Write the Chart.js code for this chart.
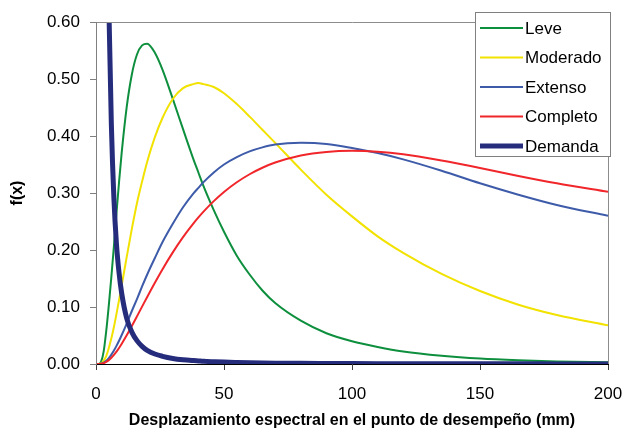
<!DOCTYPE html>
<html><head><meta charset="utf-8">
<script src="https://cdn.jsdelivr.net/npm/chart.js@4/dist/chart.umd.min.js"></script>
<style>html,body{margin:0;padding:0;background:#fff;}canvas{display:block;}</style>
</head><body>
<canvas id="c" width="624" height="430"></canvas>
<script>
const xValues  = [0, 1, 2, 3, 4, 5, 6, 7, 8, 9, 10, 12, 14, 16, 18, 20, 23, 26, 30, 34, 38, 40, 42, 46, 50, 55, 60, 65, 70, 80, 90, 100, 110, 120, 135, 150, 165, 180, 200];
const leve     = [0, 0, 0.004, 0.022, 0.058, 0.103, 0.153, 0.207, 0.265, 0.319, 0.369, 0.451, 0.508, 0.543, 0.559, 0.562, 0.546, 0.516, 0.465, 0.412, 0.360, 0.336, 0.312, 0.270, 0.232, 0.190, 0.157, 0.129, 0.107, 0.076, 0.054, 0.040, 0.030, 0.022, 0.0145, 0.0095, 0.0065, 0.0045, 0.003];
const moderado = [0, 0, 0.001, 0.006, 0.014, 0.028, 0.045, 0.065, 0.088, 0.112, 0.137, 0.188, 0.237, 0.282, 0.320, 0.355, 0.398, 0.432, 0.465, 0.484, 0.491, 0.493, 0.491, 0.486, 0.475, 0.456, 0.434, 0.411, 0.388, 0.341, 0.297, 0.259, 0.224, 0.195, 0.158, 0.128, 0.104, 0.086, 0.068];
const extenso  = [0, 0, 0.0006, 0.0024, 0.0056, 0.0103, 0.0164, 0.0236, 0.0318, 0.0408, 0.0505, 0.071, 0.093, 0.114, 0.136, 0.157, 0.186, 0.214, 0.246, 0.275, 0.299, 0.309, 0.319, 0.336, 0.350, 0.363, 0.373, 0.380, 0.385, 0.388, 0.386, 0.379, 0.370, 0.359, 0.339, 0.317, 0.297, 0.279, 0.260];
const completo = [0, 0, 0.0004, 0.0015, 0.0037, 0.0068, 0.0109, 0.0159, 0.0217, 0.0281, 0.0351, 0.0503, 0.0666, 0.0835, 0.1006, 0.1177, 0.1426, 0.1664, 0.1958, 0.2225, 0.2462, 0.2571, 0.2673, 0.2857, 0.3018, 0.3188, 0.3329, 0.3443, 0.3534, 0.3658, 0.3721, 0.374, 0.3725, 0.368, 0.357, 0.344, 0.330, 0.317, 0.302];
const demanda  = [null, null, null, null, 1.0, 0.63, 0.42, 0.29, 0.21, 0.16, 0.125, 0.08, 0.056, 0.041, 0.031, 0.024, 0.0175, 0.0135, 0.0098, 0.0075, 0.006, 0.0054, 0.0048, 0.004, 0.0033, 0.0027, 0.0022, 0.0018, 0.0015, 0.0011, 0.0009, 0.0007, 0.0006, 0.0005, 0.0004, 0.0003, 0.0003, 0.0002, 0.0002];

const seriesNames = ['Leve', 'Moderado', 'Extenso', 'Completo', 'Demanda'];
const xTickStep = 50;
const yTickStep = 0.1;
const xTitle = 'Desplazamiento espectral en el punto de desempeño (mm)';
const yTitle = 'f(x)';

const FONT = '"Liberation Sans", Arial, Helvetica, sans-serif';
const colors = ['#0E8F3E', '#F2E200', '#3D5BA9', '#F0262B', '#262C7C'];
const widths = [2, 2, 2, 2, 5];
const allSeries = [leve, moderado, extenso, completo, demanda];

function toPoints(vals) {
  const out = [];
  xValues.forEach((x, i) => { if (vals[i] !== null) out.push({x: x, y: vals[i]}); });
  return out;
}

const frame = {
  id: 'frame',
  afterDatasetsDraw(chart) {
    const {ctx, chartArea: a} = chart;
    ctx.save();
    ctx.strokeStyle = '#8c8c8c';
    ctx.lineWidth = 1;
    ctx.beginPath();
    ctx.moveTo(a.left, a.top + 0.5);
    ctx.lineTo(Math.round(a.right) + 0.5, a.top + 0.5);
    ctx.lineTo(Math.round(a.right) + 0.5, a.bottom);
    ctx.stroke();
    ctx.restore();
  }
};

const legendBox = {
  id: 'legendBox',
  afterDraw(chart) {
    const ctx = chart.ctx;
    ctx.save();
    const bx = 475.5, by = 12.5, bw = 135, bh = 144;
    ctx.fillStyle = '#fff';
    ctx.fillRect(bx, by, bw, bh);
    ctx.strokeStyle = '#808080';
    ctx.lineWidth = 1;
    ctx.strokeRect(bx, by, bw, bh);
    ctx.font = '17px ' + FONT;
    ctx.textBaseline = 'middle';
    ctx.textAlign = 'left';
    chart.data.datasets.forEach((ds, i) => {
      const y = 28 + i * 29.5;
      ctx.strokeStyle = ds.borderColor;
      ctx.lineWidth = ds.borderWidth;
      ctx.beginPath();
      ctx.moveTo(480, y);
      ctx.lineTo(523, y);
      ctx.stroke();
      ctx.fillStyle = '#000';
      ctx.fillText(ds.label, 525, y + 1);
    });
    ctx.restore();
  }
};

const datasets = allSeries.map((vals, i) => ({
  label: seriesNames[i],
  data: toPoints(vals),
  borderColor: colors[i],
  backgroundColor: colors[i],
  borderWidth: widths[i],
  pointRadius: 0,
  fill: false,
  cubicInterpolationMode: 'monotone',
  order: 5 - i,
  clip: i === 4 ? 0 : undefined
}));

new Chart(document.getElementById('c'), {
  type: 'line',
  data: { datasets: datasets },
  options: {
    responsive: false,
    animation: false,
    devicePixelRatio: 1,
    layout: { padding: { left: 0, right: 16, top: 22, bottom: 0 } },
    plugins: { legend: { display: false }, tooltip: { enabled: false } },
    scales: {
      x: {
        type: 'linear', min: 0, max: 200,
        afterFit: s => { s.height = 66; s.paddingLeft = 0; s.paddingRight = 0; },
        ticks: { stepSize: xTickStep, color: '#000', padding: 14, maxRotation: 0,
                 font: { family: FONT, size: 17 } },
        grid: { drawOnChartArea: false, drawTicks: true, tickLength: 6, color: '#404040', tickColor: '#404040' },
        border: { display: true, color: '#000', width: 1, z: 1 },
        title: { display: true, text: xTitle, color: '#000', padding: { top: 0, bottom: 0 },
                 font: { family: FONT, size: 16, weight: 'bold' } }
      },
      y: {
        min: 0, max: 0.6,
        afterFit: s => { s.width = 96; s.paddingTop = 0; s.paddingBottom = 0; },
        ticks: { stepSize: yTickStep, color: '#000', padding: 10,
                 font: { family: FONT, size: 17 },
                 callback: v => Number(v).toFixed(2) },
        grid: { drawOnChartArea: false, drawTicks: true, tickLength: 6, color: '#808080', tickColor: '#808080' },
        border: { display: true, color: '#808080', width: 1, z: 1 },
        title: { display: true, text: yTitle, color: '#000', padding: { top: 8, bottom: 0 },
                 font: { family: FONT, size: 16, weight: 'bold' } }
      }
    }
  },
  plugins: [frame, legendBox]
});
</script>
</body></html>
